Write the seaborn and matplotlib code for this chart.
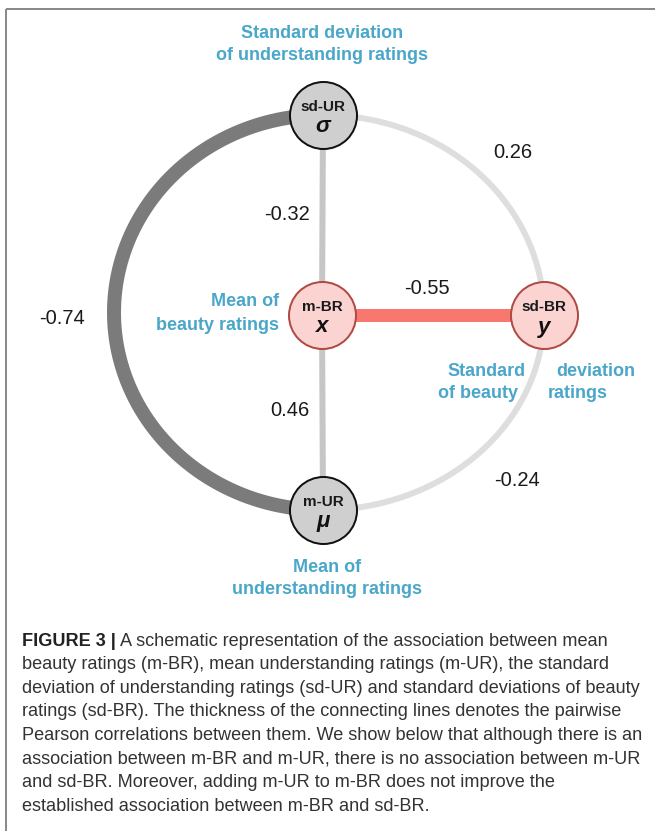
import matplotlib
matplotlib.use("Agg")
import matplotlib.pyplot as plt
import numpy as np
import seaborn as sns

sns.set_theme(style="white")
plt.rcParams["font.family"] = ["Liberation Sans", "DejaVu Sans"]

# ---- data ----
nodes = ["sd-UR", "m-BR", "sd-BR", "m-UR"]
symbols = ["σ", "x", "y", "μ"]
node_kind = ["understanding", "beauty", "beauty", "understanding"]

edge_from = ["sd-UR", "sd-UR", "sd-UR", "m-BR", "m-BR", "sd-BR"]
edge_to = ["m-BR", "m-UR", "sd-BR", "sd-BR", "m-UR", "m-UR"]
edge_r = [-0.32, -0.74, 0.26, -0.55, 0.46, -0.24]

caption_head = "FIGURE 3 |"
caption_lines = [
    " A schematic representation of the association between mean",
    "beauty ratings (m-BR), mean understanding ratings (m-UR), the standard",
    "deviation of understanding ratings (sd-UR) and standard deviations of beauty",
    "ratings (sd-BR). The thickness of the connecting lines denotes the pairwise",
    "Pearson correlations between them. We show below that although there is an",
    "association between m-BR and m-UR, there is no association between m-UR",
    "and sd-BR. Moreover, adding m-UR to m-BR does not improve the",
    "established association between m-BR and sd-BR.",
]

# ---- layout (pixel-like data coords, y down) ----
W, H, DPI = 655, 831, 100
PT = 72 / DPI
pos = {"sd-UR": (323, 115), "m-BR": (322, 315), "sd-BR": (544, 315), "m-UR": (323, 510)}
node_fill = {"understanding": "#cfcfcf", "beauty": "#fbd4d2"}
node_edge = {"understanding": "#111111", "beauty": "#b04a45"}
blue = "#4aa7c9"

# per edge: shape, color, width(px), label position
edge_style = {
    ("sd-UR", "m-BR"): ("line", "#c6c6c6", 6, (287, 215)),
    ("sd-UR", "m-UR"): ("left", "#7b7b7b", 14, (62, 318)),
    ("sd-UR", "sd-BR"): ("upper", "#dedede", 6, (513, 152)),
    ("m-BR", "sd-BR"): ("line", "#f8776e", 13, (427, 289)),
    ("m-BR", "m-UR"): ("line", "#c6c6c6", 6, (290, 410)),
    ("sd-BR", "m-UR"): ("lower", "#dedede", 6, (517, 480)),
}

fig = plt.figure(figsize=(W / DPI, H / DPI), dpi=DPI)
ax = fig.add_axes([0, 0, 1, 1])
ax.set_xlim(0, W)
ax.set_ylim(H, 0)
ax.axis("off")

# frame (top and left only)
ax.plot([6, W], [9, 9], color="#8a8a8a", lw=2 * PT, solid_capstyle="butt")
ax.plot([6, 6], [9, H], color="#8a8a8a", lw=2 * PT, solid_capstyle="butt")


def ellipse(cx, cy, rx, ry, a0, a1):
    t = np.radians(np.linspace(a0, a1, 200))
    return cx + rx * np.cos(t), cy - ry * np.sin(t)


for a, b, r in zip(edge_from, edge_to, edge_r):
    shape, col, wpx, lab = edge_style[(a, b)]
    (x0, y0), (x1, y1) = pos[a], pos[b]
    if shape == "line":
        xs, ys = [x0, x1], [y0, y1]
    elif shape == "left":
        xs, ys = ellipse(x0, (y0 + y1) / 2, 209, (y1 - y0) / 2, 90, 270)
    elif shape == "upper":
        xs, ys = ellipse(x0, y1, x1 - x0, y1 - y0, 0, 90)
    else:
        xs, ys = ellipse(x1, y0, x0 - x1, y1 - y0, -90, 0)
    ax.plot(xs, ys, color=col, lw=wpx * PT, solid_capstyle="butt", zorder=1)
    ax.text(lab[0], lab[1], f"{r:.2f}", fontsize=14.5, color="#1a1a1a",
            ha="center", va="center")

# nodes
for kind in ["understanding", "beauty"]:
    idx = [i for i, k in enumerate(node_kind) if k == kind]
    sns.scatterplot(x=[pos[nodes[i]][0] for i in idx],
                    y=[pos[nodes[i]][1] for i in idx],
                    s=(67 * PT) ** 2, color=node_fill[kind],
                    edgecolor=node_edge[kind], linewidth=2 * PT,
                    ax=ax, zorder=3, legend=False)
for n, sym in zip(nodes, symbols):
    x, y = pos[n]
    ax.text(x, y - 8, n, fontsize=11, fontweight="bold", color="#1a1a1a",
            ha="center", va="center", zorder=4)
    ax.text(x, y + 12, sym, fontsize=16, fontweight="bold", fontstyle="italic",
            color="#111111", ha="center", va="center", zorder=4)

# blue descriptive labels
lab_kw = dict(fontsize=13, fontweight="bold", color=blue, va="center")
ax.text(322, 33, "Standard deviation", ha="center", **lab_kw)
ax.text(322, 55, "of understanding ratings", ha="center", **lab_kw)
ax.text(279, 302, "Mean of", ha="right", **lab_kw)
ax.text(279, 325, "beauty ratings", ha="right", **lab_kw)
ax.text(526, 371, "Standard", ha="right", **lab_kw)
ax.text(556, 371, "deviation", ha="left", **lab_kw)
ax.text(518, 393, "of beauty", ha="right", **lab_kw)
ax.text(548, 393, "ratings", ha="left", **lab_kw)
ax.text(327, 568, "Mean of", ha="center", **lab_kw)
ax.text(327, 590, "understanding ratings", ha="center", **lab_kw)

# caption, fitted to the measured width of the longest line
fig.canvas.draw()
rend = fig.canvas.get_renderer()
probe = ax.text(0, 0, caption_lines[5], fontsize=12)
size = 12 * 620 / probe.get_window_extent(rend).width
probe.remove()

cx0, cy0, dy = 22, 641, 23.6
head = ax.text(cx0, cy0, caption_head, fontsize=size, fontweight="bold",
               color="#222222", va="center")
hw = head.get_window_extent(rend).width
for i, line in enumerate(caption_lines):
    x = cx0 + hw if i == 0 else cx0
    ax.text(x, cy0 + i * dy, line, fontsize=size, color="#333333", va="center")

fig.savefig("out.png", dpi=DPI)
